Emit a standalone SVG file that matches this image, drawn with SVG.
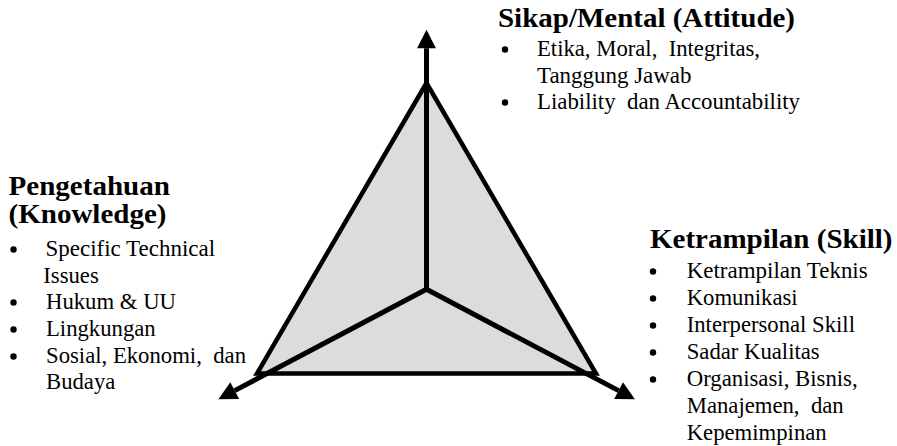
<svg xmlns="http://www.w3.org/2000/svg" width="897" height="446" viewBox="0 0 897 446">
<style>
.t{font-weight:bold;font-size:27px}
.b{font-size:22.7px}
.bul{fill:#000}
.axis{stroke:#000;stroke-width:5;fill:none;marker-end:url(#ah)}
</style>
<defs>
<marker id="ah" markerUnits="userSpaceOnUse" markerWidth="20" markerHeight="20" viewBox="0 -9 17 18" refX="0" refY="0" orient="auto" overflow="visible">
<path d="M0,-8.5 L16.6,0 L0,8.5 Z" fill="#000"/>
</marker>
</defs>
<rect width="897" height="446" fill="#fff"/>
<g id="triangle">
<polygon points="426.5,83 257,373.5 596,373.5" fill="#dcdcdc" stroke="#000" stroke-width="4.5" stroke-linejoin="miter"/>
</g>
<g id="connectors">
<line class="axis" x1="426.5" y1="291" x2="426.5" y2="48.3"/>
<line class="axis" x1="426.5" y1="289.3" x2="234.7" y2="390.6"/>
<line class="axis" x1="426.5" y1="289.3" x2="618.6" y2="390.6"/>
</g>
<g font-family="Liberation Serif, Tinos, Times New Roman, Noto Serif, DejaVu Serif, serif" fill="#000">
<g id="attitude">
<text class="t" x="498" y="27" textLength="297" lengthAdjust="spacingAndGlyphs">Sikap/Mental (Attitude)</text>
<circle class="bul" cx="505" cy="49.5" r="3.2"/>
<text class="b" x="537" y="56" xml:space="preserve" textLength="223" lengthAdjust="spacingAndGlyphs">Etika, Moral,  Integritas,</text>
<text class="b" x="537" y="82.5" textLength="154.5" lengthAdjust="spacingAndGlyphs">Tanggung Jawab</text>
<circle class="bul" cx="505" cy="102.5" r="3.2"/>
<text class="b" x="537" y="109" xml:space="preserve" textLength="263" lengthAdjust="spacingAndGlyphs">Liability  dan Accountability</text>
</g>
<g id="knowledge">
<text class="t" x="8.5" y="195" textLength="161.5" lengthAdjust="spacingAndGlyphs">Pengetahuan</text>
<text class="t" x="8.5" y="223" textLength="158" lengthAdjust="spacingAndGlyphs">(Knowledge)</text>
<circle class="bul" cx="13.5" cy="249.5" r="3.2"/>
<text class="b" x="45.5" y="256" textLength="169.6" lengthAdjust="spacingAndGlyphs">Specific Technical</text>
<text class="b" x="43.3" y="282.5" textLength="55.5" lengthAdjust="spacingAndGlyphs">Issues</text>
<circle class="bul" cx="13.5" cy="302.5" r="3.2"/>
<text class="b" x="46" y="309" textLength="130" lengthAdjust="spacingAndGlyphs">Hukum &amp; UU</text>
<circle class="bul" cx="13.5" cy="329.5" r="3.2"/>
<text class="b" x="46" y="336" textLength="109.7" lengthAdjust="spacingAndGlyphs">Lingkungan</text>
<circle class="bul" cx="13.5" cy="356.5" r="3.2"/>
<text class="b" x="46" y="363" xml:space="preserve" textLength="200" lengthAdjust="spacingAndGlyphs">Sosial, Ekonomi,  dan</text>
<text class="b" x="46" y="389" textLength="69.3" lengthAdjust="spacingAndGlyphs">Budaya</text>
</g>
<g id="skill">
<text class="t" x="650" y="248" textLength="242.5" lengthAdjust="spacingAndGlyphs">Ketrampilan (Skill)</text>
<circle class="bul" cx="653" cy="271.5" r="3.2"/>
<text class="b" x="686.7" y="278" textLength="181" lengthAdjust="spacingAndGlyphs">Ketrampilan Teknis</text>
<circle class="bul" cx="653" cy="298.5" r="3.2"/>
<text class="b" x="686.7" y="305" textLength="111" lengthAdjust="spacingAndGlyphs">Komunikasi</text>
<circle class="bul" cx="653" cy="325.5" r="3.2"/>
<text class="b" x="686.7" y="332" textLength="168.3" lengthAdjust="spacingAndGlyphs">Interpersonal Skill</text>
<circle class="bul" cx="653" cy="352.5" r="3.2"/>
<text class="b" x="686.7" y="359" textLength="133" lengthAdjust="spacingAndGlyphs">Sadar Kualitas</text>
<circle class="bul" cx="653" cy="379.5" r="3.2"/>
<text class="b" x="686.7" y="386" textLength="171" lengthAdjust="spacingAndGlyphs">Organisasi, Bisnis,</text>
<text class="b" x="686.7" y="413" xml:space="preserve" textLength="157" lengthAdjust="spacingAndGlyphs">Manajemen,  dan</text>
<text class="b" x="686.7" y="440" textLength="140" lengthAdjust="spacingAndGlyphs">Kepemimpinan</text>
</g>
</g>
</svg>
